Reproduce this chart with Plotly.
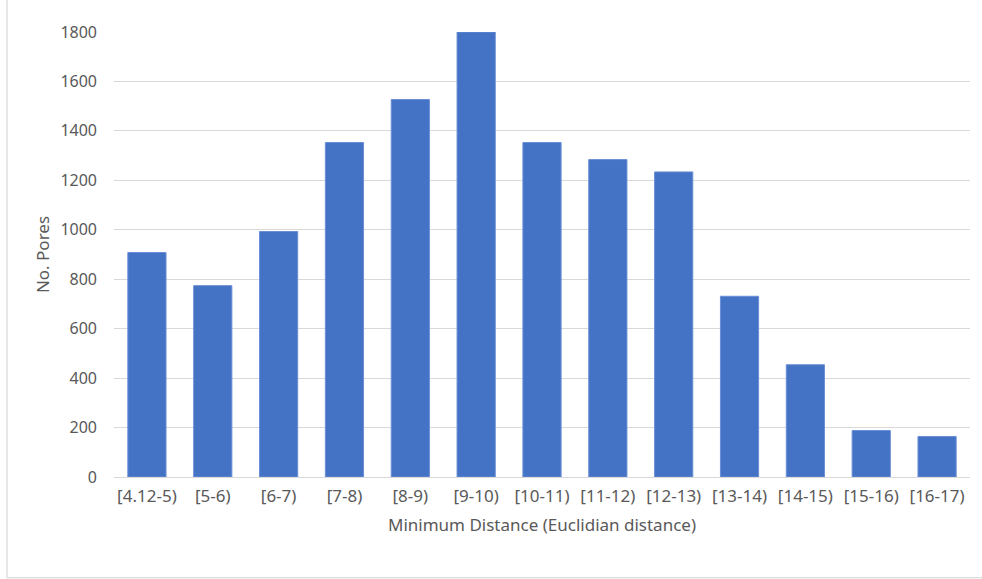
import plotly.graph_objects as go

# Minimum distance bins and pore counts per bin
bins = ["[4.12-5)", "[5-6)", "[6-7)", "[7-8)", "[8-9)", "[9-10)", "[10-11)",
        "[11-12)", "[12-13)", "[13-14)", "[14-15)", "[15-16)", "[16-17)"]
pores = [908, 774, 993, 1353, 1527, 1800, 1353, 1284, 1234, 731, 454, 188, 164]

y_ticks = [0, 200, 400, 600, 800, 1000, 1200, 1400, 1600, 1800]

font_family = "'Noto Sans', 'Open Sans', sans-serif"
text_grey = "#595959"

fig = go.Figure(
    go.Bar(
        x=bins,
        y=pores,
        marker=dict(color="#4472C4", line=dict(color="#6a8fd6", width=1)),
    )
)

fig.update_layout(
    width=982,
    height=579,
    margin=dict(l=114, r=12, t=32, b=102),
    paper_bgcolor="white",
    plot_bgcolor="white",
    bargap=0.42,
    showlegend=False,
    font=dict(family=font_family, size=16, color=text_grey),
    xaxis=dict(
        title=dict(text="Minimum Distance (Euclidian distance)",
                   font=dict(size=17, color=text_grey), standoff=12),
        tickfont=dict(size=17, color=text_grey),
        showgrid=False,
        showline=True,
        linecolor="#d9d9d9",
        linewidth=1,
        ticks="",
        ticklabelstandoff=4,
    ),
    yaxis=dict(
        title=dict(text="No. Pores", font=dict(size=17, color=text_grey), standoff=6),
        tickvals=y_ticks,
        range=[0, 1800],
        tickfont=dict(size=16, color=text_grey),
        showgrid=True,
        gridcolor="#d9d9d9",
        gridwidth=1,
        zeroline=False,
        showline=False,
        ticks="",
        ticklabelstandoff=16,
    ),
    shapes=[
        dict(type="rect", xref="paper", yref="paper",
             x0=-0.125, x1=1.02, y0=-0.2265, y1=1.08,
             line=dict(color="#d0d0d0", width=1), layer="below"),
    ],
)

fig.write_html("out.html")
